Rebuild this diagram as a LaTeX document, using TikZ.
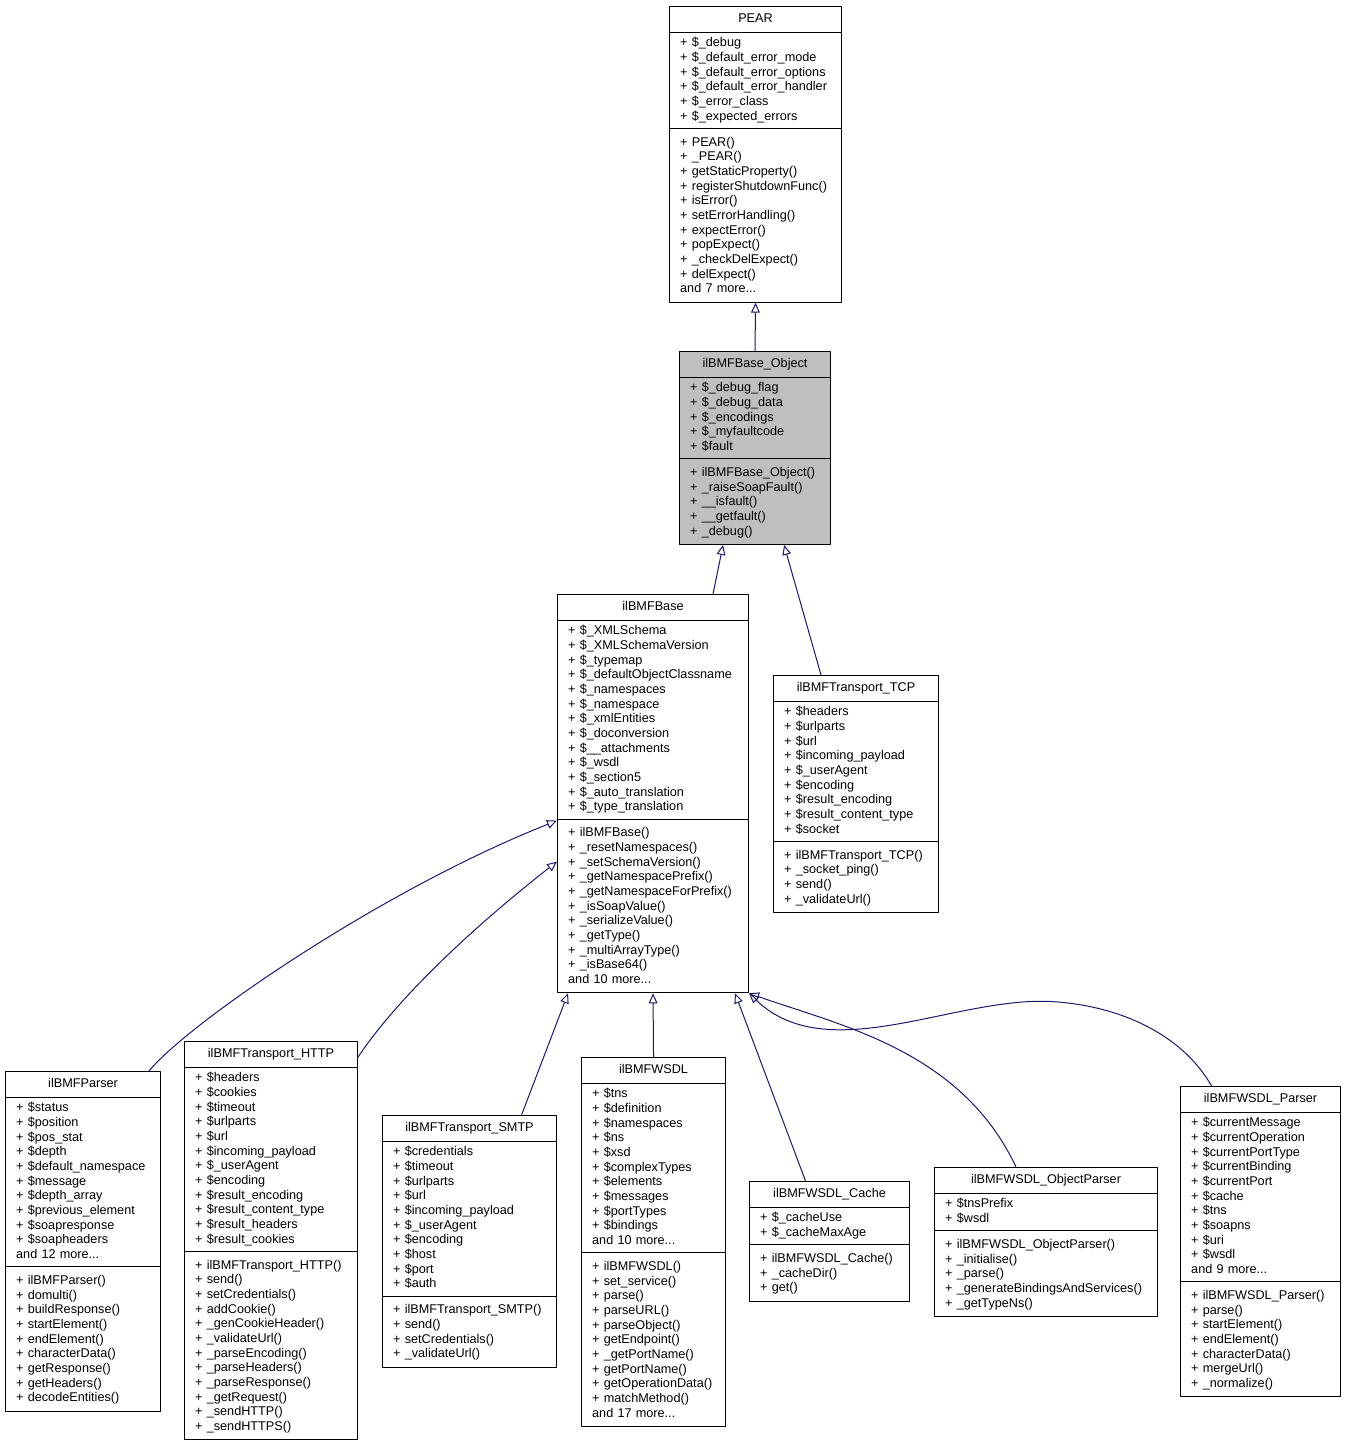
\documentclass[tikz,border=0pt]{standalone}
\usepackage{fontspec}
\setmainfont{Liberation Sans}
\usetikzlibrary{calc,arrows.meta,shapes.multipart}
\definecolor{edgeblue}{RGB}{25,25,112}
% parts of a class box
\newcommand{\cname}[1]{\makebox[\linewidth][c]{\rule[-4.55pt]{0pt}{13.65pt}#1}}
\newcommand{\attrs}[1]{\begin{tabular}{@{}l@{}}#1\end{tabular}}
\newcommand{\meths}[1]{\begin{tabular}{@{}l@{}}\rule{0pt}{10.3pt}#1\rule[-4pt]{0pt}{4pt}\end{tabular}}

\begin{document}
\begin{tikzpicture}[x=0.75pt, y=-0.75pt, line join=round, font=\fontsize{9.5}{11}\selectfont,
    classbox/.style={rectangle split, rectangle split parts=3, draw=black, line width=0.8pt,
        fill=white, align=left, anchor=north west, inner xsep=8pt, inner ysep=2.55pt, text width=#1},
    inherit/.style={draw=edgeblue, line width=0.75pt, -{Triangle[open, length=7.5pt, width=6.5pt]}}]
    \useasboundingbox (0,0) rectangle (1345,1447);

    % Classes
    \node[classbox=113pt] (pear) at (669,6) {\cname{PEAR}
        \nodepart{two}\attrs{+ \$\_debug\\ + \$\_default\_error\_mode\\ + \$\_default\_error\_options\\
            + \$\_default\_error\_handler\\ + \$\_error\_class\\ + \$\_expected\_errors}
        \nodepart{three}\meths{+ PEAR()\\ + \_PEAR()\\ + getStaticProperty()\\ + registerShutdownFunc()\\
            + isError()\\ + setErrorHandling()\\ + expectError()\\ + popExpect()\\ + \_checkDelExpect()\\
            + delExpect()\\ and 7 more...}};

    \node[classbox=97.25pt, fill=black!25] (bmfobject) at (679,351) {\cname{ilBMFBase\_Object}
        \nodepart{two}\attrs{+ \$\_debug\_flag\\ + \$\_debug\_data\\ + \$\_encodings\\ + \$\_myfaultcode\\ + \$fault}
        \nodepart{three}\meths{+ ilBMFBase\_Object()\\ + \_raiseSoapFault()\\ + \_\_isfault()\\ + \_\_getfault()\\ + \_debug()}};

    \node[classbox=127.25pt] (bmfbase) at (557,594) {\cname{ilBMFBase}
        \nodepart{two}\attrs{+ \$\_XMLSchema\\ + \$\_XMLSchemaVersion\\ + \$\_typemap\\ + \$\_defaultObjectClassname\\
            + \$\_namespaces\\ + \$\_namespace\\ + \$\_xmlEntities\\ + \$\_doconversion\\ + \$\_\_attachments\\
            + \$\_wsdl\\ + \$\_section5\\ + \$\_auto\_translation\\ + \$\_type\_translation}
        \nodepart{three}\meths{+ ilBMFBase()\\ + \_resetNamespaces()\\ + \_setSchemaVersion()\\ + \_getNamespacePrefix()\\
            + \_getNamespaceForPrefix()\\ + \_isSoapValue()\\ + \_serializeValue()\\ + \_getType()\\
            + \_multiArrayType()\\ + \_isBase64()\\ and 10 more...}};

    \node[classbox=107.75pt] (tcp) at (773,675) {\cname{ilBMFTransport\_TCP}
        \nodepart{two}\attrs{+ \$headers\\ + \$urlparts\\ + \$url\\ + \$incoming\_payload\\ + \$\_userAgent\\
            + \$encoding\\ + \$result\_encoding\\ + \$result\_content\_type\\ + \$socket}
        \nodepart{three}\meths{+ ilBMFTransport\_TCP()\\ + \_socket\_ping()\\ + send()\\ + \_validateUrl()}};

    \node[classbox=100.25pt] (parser) at (5,1071) {\cname{ilBMFParser}
        \nodepart{two}\attrs{+ \$status\\ + \$position\\ + \$pos\_stat\\ + \$depth\\ + \$default\_namespace\\
            + \$message\\ + \$depth\_array\\ + \$previous\_element\\ + \$soapresponse\\ + \$soapheaders\\ and 12 more...}
        \nodepart{three}\meths{+ ilBMFParser()\\ + domulti()\\ + buildResponse()\\ + startElement()\\ + endElement()\\
            + characterData()\\ + getResponse()\\ + getHeaders()\\ + decodeEntities()}};

    \node[classbox=113.75pt] (http) at (184,1041) {\cname{ilBMFTransport\_HTTP}
        \nodepart{two}\attrs{+ \$headers\\ + \$cookies\\ + \$timeout\\ + \$urlparts\\ + \$url\\ + \$incoming\_payload\\
            + \$\_userAgent\\ + \$encoding\\ + \$result\_encoding\\ + \$result\_content\_type\\ + \$result\_headers\\
            + \$result\_cookies}
        \nodepart{three}\meths{+ ilBMFTransport\_HTTP()\\ + send()\\ + setCredentials()\\ + addCookie()\\
            + \_genCookieHeader()\\ + \_validateUrl()\\ + \_parseEncoding()\\ + \_parseHeaders()\\
            + \_parseResponse()\\ + \_getRequest()\\ + \_sendHTTP()\\ + \_sendHTTPS()}};

    \node[classbox=114.5pt] (smtp) at (382,1115) {\cname{ilBMFTransport\_SMTP}
        \nodepart{two}\attrs{+ \$credentials\\ + \$timeout\\ + \$urlparts\\ + \$url\\ + \$incoming\_payload\\
            + \$\_userAgent\\ + \$encoding\\ + \$host\\ + \$port\\ + \$auth}
        \nodepart{three}\meths{+ ilBMFTransport\_SMTP()\\ + send()\\ + setCredentials()\\ + \_validateUrl()}};

    \node[classbox=92pt] (wsdl) at (581,1057) {\cname{ilBMFWSDL}
        \nodepart{two}\attrs{+ \$tns\\ + \$definition\\ + \$namespaces\\ + \$ns\\ + \$xsd\\ + \$complexTypes\\
            + \$elements\\ + \$messages\\ + \$portTypes\\ + \$bindings\\ and 10 more...}
        \nodepart{three}\meths{+ ilBMFWSDL()\\ + set\_service()\\ + parse()\\ + parseURL()\\ + parseObject()\\
            + getEndpoint()\\ + \_getPortName()\\ + getPortName()\\ + getOperationData()\\ + matchMethod()\\
            and 17 more...}};

    \node[classbox=104pt] (wsdlcache) at (749,1181) {\cname{ilBMFWSDL\_Cache}
        \nodepart{two}\attrs{+ \$\_cacheUse\\ + \$\_cacheMaxAge}
        \nodepart{three}\meths{+ ilBMFWSDL\_Cache()\\ + \_cacheDir()\\ + get()}};

    \node[classbox=151.25pt] (objparser) at (934,1167) {\cname{ilBMFWSDL\_ObjectParser}
        \nodepart{two}\attrs{+ \$tnsPrefix\\ + \$wsdl}
        \nodepart{three}\meths{+ ilBMFWSDL\_ObjectParser()\\ + \_initialise()\\ + \_parse()\\
            + \_generateBindingsAndServices()\\ + \_getTypeNs()}};

    \node[classbox=104pt] (wsdlparser) at (1180,1086) {\cname{ilBMFWSDL\_Parser}
        \nodepart{two}\attrs{+ \$currentMessage\\ + \$currentOperation\\ + \$currentPortType\\ + \$currentBinding\\
            + \$currentPort\\ + \$cache\\ + \$tns\\ + \$soapns\\ + \$uri\\ + \$wsdl\\ and 9 more...}
        \nodepart{three}\meths{+ ilBMFWSDL\_Parser()\\ + parse()\\ + startElement()\\ + endElement()\\
            + characterData()\\ + mergeUrl()\\ + \_normalize()}};

    % Inheritance
    \draw[inherit] (bmfobject.north) -- (pear.south);
    \draw[inherit] ($(bmfbase.north)+(60,0)$) -- ($(bmfobject.south)+(-32,0)$);
    \draw[inherit] ($(tcp.north)+(-35,0)$) -- ($(bmfobject.south)+(29,0)$);
    \draw[inherit] ($(parser.north)+(66,0)$) .. controls +(37,-46) and +(-177,70) .. ($(bmfbase.west)+(0,27)$);
    \draw[inherit] ($(http.north east)+(0,16)$) .. controls +(38,-57) and +(-87,68) .. ($(bmfbase.west)+(0,68)$);
    \draw[inherit] ($(smtp.north)+(52,0)$) -- ($(bmfbase.south)+(-85,0)$);
    \draw[inherit] (wsdl.north) -- (bmfbase.south);
    \draw[inherit] ($(wsdlcache.north)+(-24,0)$) -- ($(bmfbase.south)+(82,0)$);
    \draw[inherit] ($(objparser.north)+(-30,0)$) .. controls +(-55,-117) and +(90,32) .. (bmfbase.south east);
    \draw[inherit] ($(wsdlparser.north)+(-49,0)$) .. controls +(-26,-46) and +(72,6) .. (1058,1002)
        .. controls +(-98,-9) and +(80,77) .. (bmfbase.south east);
\end{tikzpicture}
\end{document}
